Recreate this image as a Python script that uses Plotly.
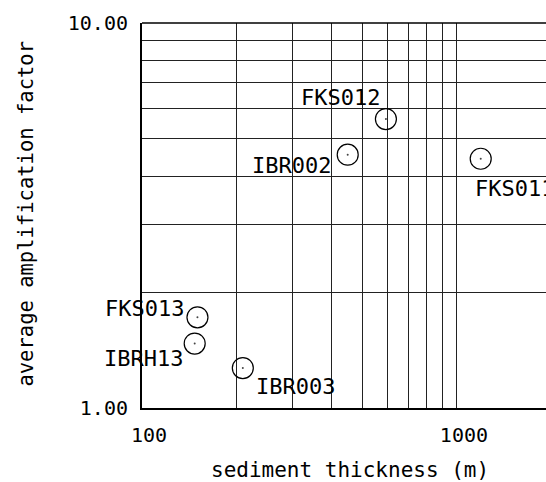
import math
import plotly.graph_objects as go

# Observation sites: sediment thickness (m) vs average amplification factor
sites = ["FKS012", "IBR002", "FKS011", "FKS013", "IBRH13", "IBR003"]
thickness = [595, 450, 1190, 150, 147, 209]
amplification = [5.63, 4.55, 4.44, 1.72, 1.47, 1.27]

x_ticks = [100, 200, 300, 400, 500, 600, 700, 800, 900, 1000]
x_tick_text = ["100", "", "", "", "", "", "", "", "", "1000"]
y_ticks = [1, 2, 3, 4, 5, 6, 7, 8, 9, 10]
y_tick_text = ["1.00", "", "", "", "", "", "", "", "", "10.00"]

# label placement around each marker: (xanchor, xshift, yshift)
label_pos = {
    "FKS012": ("right", -4, 22),
    "IBR002": ("right", -15, -11),
    "FKS011": ("left", -8, -30),
    "FKS013": ("right", -11, 9),
    "IBRH13": ("right", -10, -15),
    "IBR003": ("left", 11, -18),
}

FONT = "DejaVu Sans Mono"

fig = go.Figure()
fig.add_trace(go.Scatter(
    x=thickness, y=amplification, mode="markers",
    marker=dict(symbol="circle-open", size=21, color="black",
                line=dict(width=1.2, color="black")),
    hoverinfo="skip", showlegend=False,
))
fig.add_trace(go.Scatter(
    x=thickness, y=amplification, mode="markers",
    marker=dict(symbol="circle", size=2, color="#444444"),
    hoverinfo="skip", showlegend=False,
))

for name, xv, yv in zip(sites, thickness, amplification):
    anchor, dx, dy = label_pos[name]
    fig.add_annotation(
        x=math.log10(xv), y=math.log10(yv), xref="x", yref="y",
        text=name, showarrow=False, xanchor=anchor, yanchor="middle",
        xshift=dx, yshift=dy,
        font=dict(family=FONT, size=22, color="black"),
    )

fig.add_annotation(
    x=0.5, y=0, xref="paper", yref="paper", yanchor="middle",
    yshift=-62, xshift=6,
    text="sediment thickness (m)", showarrow=False,
    font=dict(family=FONT, size=21, color="black"),
)
fig.add_annotation(
    x=0, y=0.505, xref="paper", yref="paper", xanchor="center",
    yanchor="middle", xshift=-116, textangle=-90,
    text="average amplification factor", showarrow=False,
    font=dict(family=FONT, size=20.5, color="black"),
)

# top border of the plot frame
fig.add_shape(type="line", xref="paper", yref="paper", x0=0, x1=1, y0=1, y1=1,
              line=dict(color="black", width=1.5))

fig.update_xaxes(
    type="log", range=[2, math.log10(1918)],
    tickvals=x_ticks, ticktext=x_tick_text, ticks="",
    showgrid=True, gridcolor="#222222", gridwidth=1,
    showline=True, linecolor="black", linewidth=2,
    tickfont=dict(family=FONT, size=20, color="black"),
    ticklabelshift=7, ticklabelstandoff=8, zeroline=False,
)
fig.update_yaxes(
    type="log", range=[0, 1],
    tickvals=y_ticks, ticktext=y_tick_text, ticks="",
    showgrid=True, gridcolor="#222222", gridwidth=1,
    showline=True, linecolor="black", linewidth=2,
    tickfont=dict(family=FONT, size=20, color="black"),
    ticklabelstandoff=8, zeroline=False,
)

fig.update_layout(
    width=546, height=482,
    margin=dict(l=142, r=0, t=23, b=74),
    paper_bgcolor="white", plot_bgcolor="white",
)

fig.write_html("out.html")
